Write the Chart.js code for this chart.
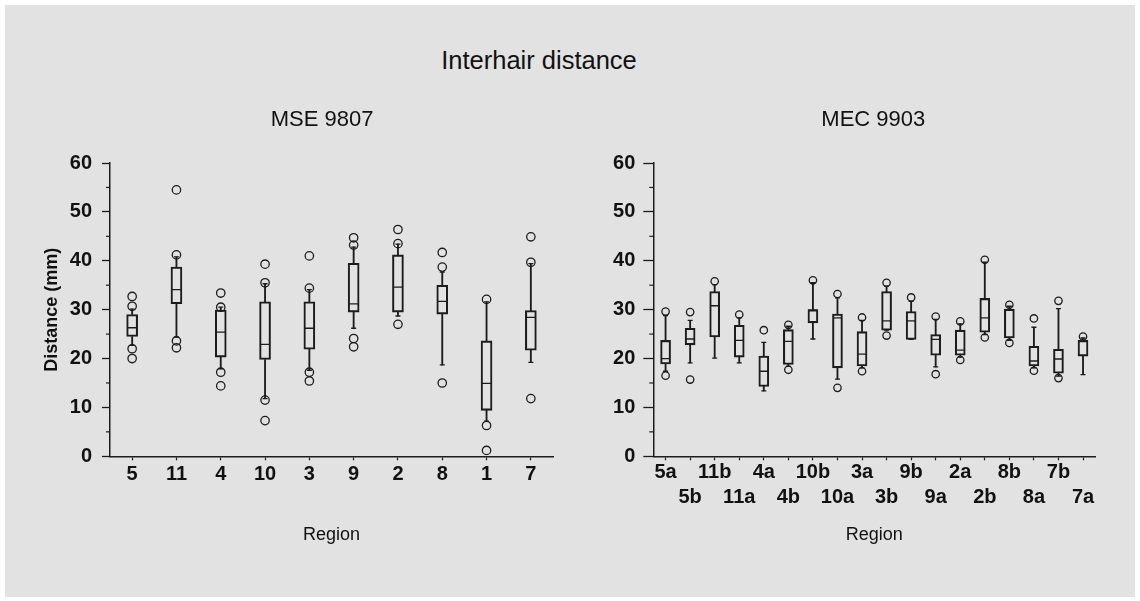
<!DOCTYPE html>
<html>
<head>
<meta charset="utf-8">
<script src="https://cdn.jsdelivr.net/npm/chart.js@4.4.1/dist/chart.umd.min.js"></script>
<style>
  html, body { margin:0; padding:0; background:#ffffff; width:1140px; height:601px; overflow:hidden; }
  #bg { position:absolute; left:5px; top:5px; width:1130px; height:592px; background:#e2e2e2; }
  #mainTitle { position:absolute; left:0; width:1078px; top:47px; line-height:26px; text-align:center;
               font-family:"Liberation Sans", Arial, sans-serif; font-size:25.5px; color:#111; }
  canvas { position:absolute; top:0; }
</style>
</head>
<body>
<div id="bg"></div>
<div id="mainTitle">Interhair distance</div>
<canvas id="c1" width="570" height="601" style="left:0px;width:570px;height:601px"></canvas>
<canvas id="c2" width="570" height="601" style="left:570px;width:570px;height:601px"></canvas>
<script>
// ---------------- DATA ----------------
// Panel 1: MSE 9807
const mseRegions     = ['5','11','4','10','3','9','2','8','1','7'];
const mseWhiskerLow  = [22.7, 24.4, 17.9, 11.8, 17.6, 26.2, 28.7, 18.7,  7.2, 19.2];
const mseQ1          = [24.5, 31.2, 20.3, 19.8, 21.9, 29.5, 29.5, 29.1,  9.4, 21.7];
const mseMedian      = [26.3, 34.1, 25.4, 22.9, 26.2, 31.2, 34.6, 31.7, 14.9, 28.4];
const mseQ3          = [29.0, 38.7, 29.9, 31.6, 31.6, 39.5, 41.2, 35.0, 23.6, 29.8];
const mseWhiskerHigh = [30.1, 40.8, 30.5, 35.3, 34.1, 42.8, 43.4, 37.7, 31.6, 39.4];
const mseOutliers    = [[32.7,30.7,22.0,20.0],[54.5,41.2,23.6,22.2],[33.4,30.5,17.2,14.4],[39.3,35.5,11.5,7.3],
                        [41.0,34.4,17.2,15.4],[44.7,43.2,24.1,22.4],[46.4,43.5,27.0],[41.7,38.7,15.0],
                        [32.1,6.3,1.2],[44.9,39.7,11.8]];

// Panel 2: MEC 9903
const mecRegions     = ['5a','5b','11b','11a','4a','4b','10b','10a','3a','3b','9b','9a','2a','2b','8b','8a','7b','7a'];
const mecWhiskerLow  = [17.4,19.1,20.1,19.1,13.4,18.4,24.0,15.8,18.1,25.8,23.9,18.3,20.3,24.9,23.7,18.1,16.4,16.7];
const mecQ1          = [18.9,22.8,24.4,20.3,14.3,18.8,27.3,18.1,18.5,25.8,23.9,20.7,20.7,25.4,24.2,18.5,17.0,20.5];
const mecMedian      = [20.0,24.0,30.8,23.7,17.4,23.5,29.9,28.3,20.9,27.7,27.7,23.9,21.7,28.3,30.0,19.5,19.9,23.5];
const mecQ3          = [23.7,26.2,33.7,26.8,20.5,25.9,30.0,29.1,25.5,33.7,29.6,24.9,25.8,32.3,30.1,22.5,21.9,23.7];
const mecWhiskerHigh = [28.8,27.8,35.1,28.3,23.3,26.6,35.5,32.4,27.8,34.8,31.7,28.0,27.1,39.7,30.7,26.4,30.2,24.2];
const mecOutliers    = [[29.6,16.5],[29.5,15.7],[35.8],[29.0],[25.8],[26.9,17.7],[36.0],[33.2,14.0],[28.4,17.4],
                        [35.5,24.7],[32.5],[28.6,16.8],[27.6,19.7],[40.2,24.3],[31.0,23.2],[28.2,17.5],[31.8,16.0],[24.5]];

const yTickMin = 0, yTickMax = 60, yTickStep = 10;
const yMinorTicks = [5,15,25,35,45,55];

// ---------------- STYLE ----------------
const INK = '#1c1c1c';
const Y_LABEL_FONT = { size: 20, weight: 'bold' };
Chart.defaults.font.family = "'Liberation Sans', Arial, sans-serif";
Chart.defaults.color = '#111';

// width of the widest y tick label, used to right-align mirrored labels left of the axis
function widestYLabel() {
  const c = document.createElement('canvas').getContext('2d');
  c.font = "bold 20px 'Liberation Sans', Arial, sans-serif";
  let w = 0;
  for (let v = yTickMin; v <= yTickMax; v += yTickStep) w = Math.max(w, c.measureText(String(v)).width);
  return w;
}
const WIDEST = widestYLabel();

const minorTickPlugin = {
  id: 'minorTicks',
  afterDraw(chart) {
    const ys = chart.scales.y, ctx = chart.ctx, x0 = chart.chartArea.left;
    ctx.save();
    ctx.strokeStyle = INK; ctx.lineWidth = 1.2;
    yMinorTicks.forEach(v => {
      const py = ys.getPixelForValue(v);
      ctx.beginPath(); ctx.moveTo(x0 - 4, py); ctx.lineTo(x0, py); ctx.stroke();
    });
    ctx.restore();
  }
};

function makeChart(id, p) {
  const outlierPts = [];
  p.outliers.forEach((arr, i) => arr.forEach(v => outlierPts.push({x: p.labels[i], y: v})));
  const pointDs = (data, style, radius, order) => ({
    type: 'line', data: data, showLine: false, pointStyle: style, pointRadius: radius,
    pointBorderColor: INK, pointBackgroundColor: 'rgba(0,0,0,0)', pointBorderWidth: 1.3,
    pointHoverRadius: radius, order: order
  });

  return new Chart(document.getElementById(id), {
    type: 'bar',
    data: {
      labels: p.labels,
      datasets: [
        { type:'bar', data: p.wLow.map((w,i)=>[w, p.q1[i]]), backgroundColor: INK, borderWidth: 0,
          barThickness: 1.2, grouped: false, order: 5 },
        { type:'bar', data: p.q3.map((q,i)=>[q, p.wHigh[i]]), backgroundColor: INK, borderWidth: 0,
          barThickness: 1.2, grouped: false, order: 5 },
        { type:'bar', data: p.q1.map((q,i)=>[q, p.q3[i]]), backgroundColor: 'rgba(0,0,0,0)',
          borderColor: INK, borderWidth: 1.4, borderSkipped: false, barThickness: p.boxWidth,
          grouped: false, order: 4 },
        pointDs(p.wLow, 'line', 2.5, 3),
        pointDs(p.wHigh, 'line', 2.5, 3),
        pointDs(p.median, 'line', p.boxWidth/2 - 0.5, 2),
        pointDs(outlierPts, 'circle', p.outlierRadius, 1)
      ]
    },
    options: {
      responsive: false, animation: false, devicePixelRatio: 1,
      layout: { padding: p.padding },
      plugins: {
        legend: { display: false }, tooltip: { enabled: false },
        title: { display: true, text: p.title, color: '#111',
                 font: { size: 22, weight: 'normal', lineHeight: 1.2 }, padding: { top: 0, bottom: 29.8 } }
      },
      scales: {
        x: {
          offset: true,
          grid: { display: true, drawOnChartArea: false, offset: false, tickLength: 4, tickColor: INK, tickWidth: 1.2 },
          border: { display: true, color: INK, width: 1.5 },
          ticks: { autoSkip: false, maxRotation: 0, minRotation: 0, padding: p.xTickPad, color: '#111',
                   font: { size: 20, weight: 'bold', lineHeight: p.xLineHeight }, callback: p.xCallback },
          title: { display: true, text: 'Region', color: '#111', font: { size: 18, weight: 'normal', lineHeight: 1.2 },
                   padding: { top: 0, bottom: 0 } },
          afterFit: s => { s.height = 89.5; }
        },
        y: {
          min: yTickMin, max: yTickMax,
          grid: { display: true, drawOnChartArea: false, tickLength: p.yTickLen, tickColor: INK, tickWidth: 1.3 },
          border: { display: true, color: INK, width: 1.5 },
          // mirrored + 'far' alignment: labels right-aligned at (axis - tickLength - gap)
          ticks: { stepSize: yTickStep, mirror: true, crossAlign: 'far',
                   padding: -(p.yTickLen + p.yLabelGap + WIDEST), color: '#111', font: Y_LABEL_FONT },
          title: p.yTitle,
          afterFit: s => { s.width = p.yWidth; }
        }
      }
    },
    plugins: [minorTickPlugin]
  });
}

makeChart('c1', {
  labels: mseRegions, wLow: mseWhiskerLow, q1: mseQ1, median: mseMedian, q3: mseQ3, wHigh: mseWhiskerHigh,
  outliers: mseOutliers, title: 'MSE 9807', boxWidth: 11, outlierRadius: 4.2,
  padding: { top: 106.8, left: 91, right: 17, bottom: 55.2 },
  yWidth: 19, yTickLen: 8, yLabelGap: 10, xTickPad: 2, xLineHeight: 1.2,
  xCallback: function (value) { return this.getLabelForValue(value); },
  yTitle: { display: true, text: 'Distance (mm)', color: '#111', font: { size: 18, weight: 'bold', lineHeight: 1.2 },
            padding: { top: -50.1, bottom: 0 } }
});

makeChart('c2', {
  labels: mecRegions, wLow: mecWhiskerLow, q1: mecQ1, median: mecMedian, q3: mecQ3, wHigh: mecWhiskerHigh,
  outliers: mecOutliers, title: 'MEC 9903', boxWidth: 10, outlierRadius: 3.7,
  padding: { top: 106.8, left: 81.3, right: 44.7, bottom: 55.2 },
  yWidth: 2, yTickLen: 10, yLabelGap: 8, xTickPad: 0, xLineHeight: 1.25,
  xCallback: function (value, index) { const l = this.getLabelForValue(value); return index % 2 === 0 ? [l, ''] : ['', l]; },
  yTitle: { display: false }
});
</script>
</body>
</html>
